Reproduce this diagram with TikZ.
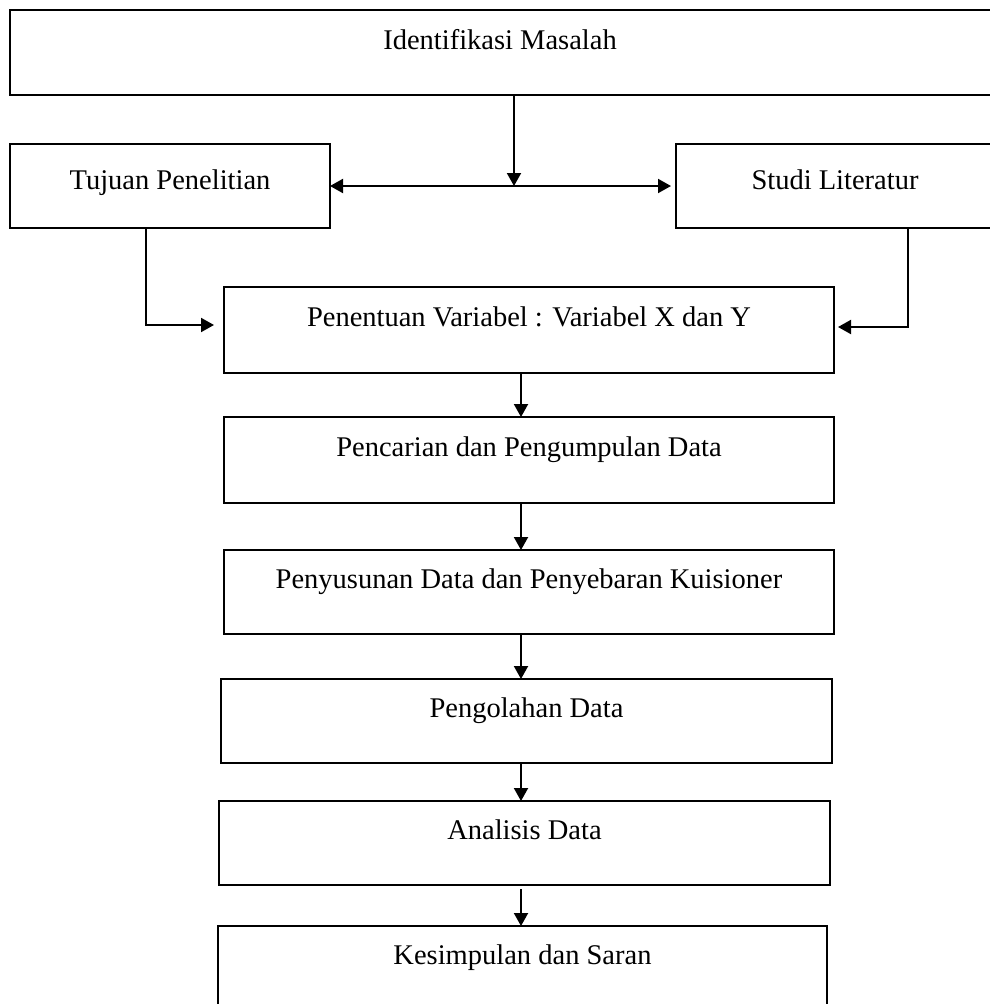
\documentclass[tikz,border=0pt]{standalone}
\usepackage{fontspec}
\setmainfont{Liberation Serif}
\usepackage{tikz}
\usetikzlibrary{positioning, arrows.meta}

\begin{document}
\begin{tikzpicture}[
    x=1pt, y=-1pt,
    >={Triangle[length=13pt, width=14pt]},
    box/.style={rectangle, draw, line width=1.5pt, anchor=north west, outer sep=0pt, inner sep=0pt, text height=39pt, text depth=46pt, font=\fontsize{28.5}{30}\selectfont},
    arrow/.style={->, line width=2pt}
  ]
    \useasboundingbox (0,0) rectangle (989,1004);

    % the two top boxes run past the right margin
    \node[box, minimum width=1000pt] (masalah) at (10,10) {Identifikasi Masalah\kern20pt};
    \node[box, minimum width=320pt, text height=45pt, text depth=39pt] (tujuan) at (10,144) {Tujuan Penelitian};
    \node[box, minimum width=340pt, text height=45pt, text depth=39pt] (studi) at (676,144) {Studi Literatur\kern22pt};
    \node[box, minimum width=610pt, text depth=47pt] (variabel) at (224,287) {Penentuan Variabel : Variabel X dan Y};
    \node[box, minimum width=610pt, text depth=47pt] (pencarian) at (224,417) {Pencarian dan Pengumpulan Data};
    \node[box, minimum width=610pt, text height=38pt] (penyusunan) at (224,550) {Penyusunan Data dan Penyebaran Kuisioner};
    \node[box, minimum width=611pt, text height=38pt] (pengolahan) at (221,679) {Pengolahan Data};
    \node[box, minimum width=611pt, text height=38pt] (analisis) at (219,801) {Analisis Data};
    \node[box, minimum width=609pt, text height=38pt] (kesimpulan) at (218,926) {Kesimpulan dan Saran};

    \coordinate (cabang) at (514,186);
    \coordinate (poros) at (521,0);

    \draw[arrow] (masalah.south -| cabang) -- (cabang);
    \draw[<->, line width=2pt, shorten >=5pt] (tujuan.east) -- (studi.west);
    \draw[arrow] ([xshift=64pt]tujuan.south west) -- ([xshift=136pt]tujuan.south west) |- ([xshift=-10pt, yshift=5pt]variabel.west);
    \draw[arrow] ([xshift=302pt]studi.south west) -- ([xshift=232pt]studi.south west) |- ([xshift=4pt, yshift=3pt]variabel.east);
    \draw[arrow] (variabel.south -| poros) -- (pencarian.north -| poros);
    \draw[arrow] (pencarian.south -| poros) -- (penyusunan.north -| poros);
    \draw[arrow] (penyusunan.south -| poros) -- (pengolahan.north -| poros);
    \draw[arrow] (pengolahan.south -| poros) -- (analisis.north -| poros);
    \draw[arrow] ([yshift=-4pt]analisis.south -| poros) -- (kesimpulan.north -| poros);
  \end{tikzpicture}
\end{document}
